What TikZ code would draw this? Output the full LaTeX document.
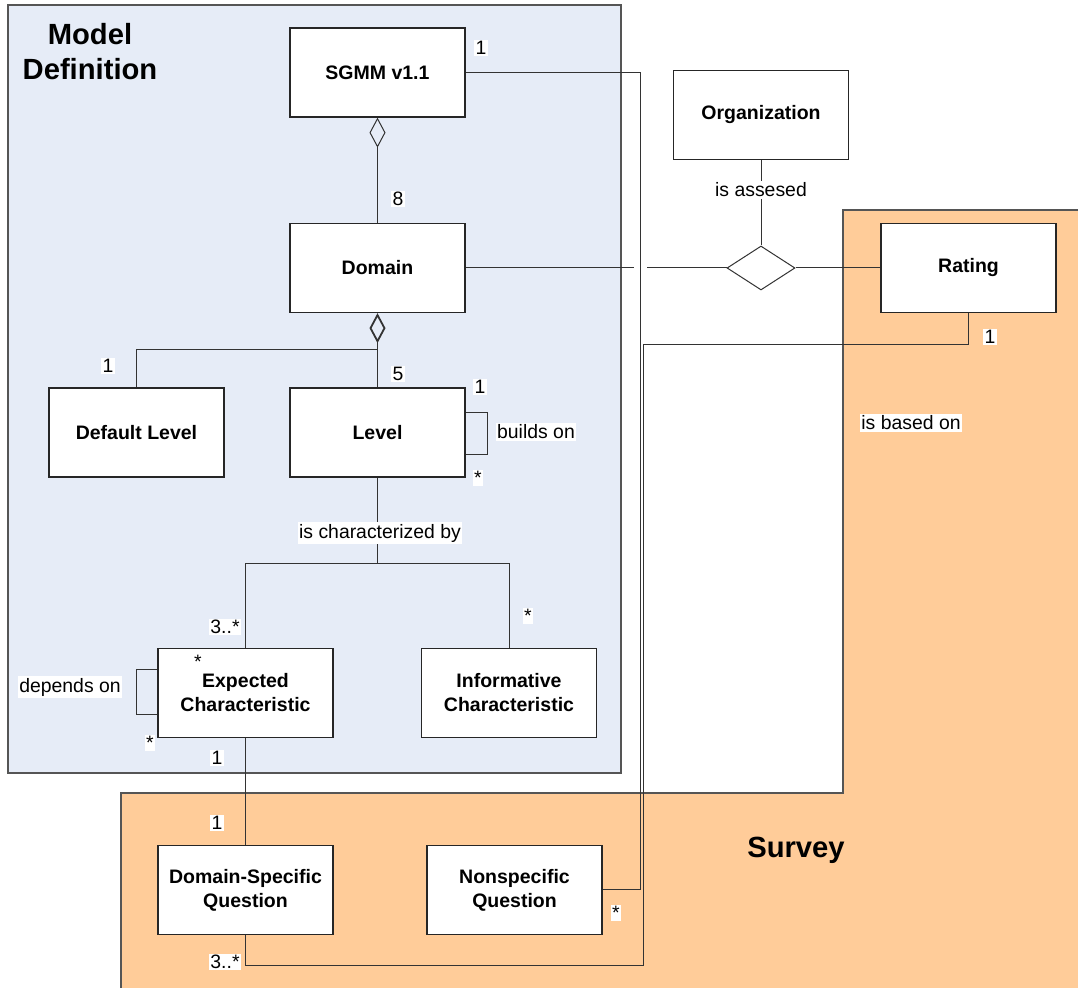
\documentclass[tikz,border=0pt]{standalone}
\usepackage{fontspec}
\setmainfont{Liberation Sans}
\usepackage{tikz}
\usetikzlibrary{arrows.meta,calc,shapes.geometric}
\definecolor{modelblue}{RGB}{230,236,247}
\definecolor{surveyorange}{RGB}{255,204,153}
\definecolor{panelline}{RGB}{85,85,85}

\begin{document}
\begin{tikzpicture}[x=0.5pt,y=-0.5pt,
  classbox/.style={draw=black!85,line width=0.65pt,fill=white,minimum width=87.5pt,minimum height=44.5pt,
    inner sep=0pt,align=center,font=\bfseries\fontsize{9.75}{12}\selectfont},
  mult/.style={fill=white,inner sep=0.8pt,font=\fontsize{9.7}{11.6}\selectfont},
  conn/.style={draw=black!80,line width=0.5pt},
  aggr/.style={conn,{Diamond[open,length=15pt,width=8pt]}-}]
\useasboundingbox (0,0) rectangle (1078,988);
% panels
\draw[fill=modelblue,draw=panelline,line width=0.6pt] (8,5) rectangle (621,773);
\fill[surveyorange] (843,210) -- (1078,210) -- (1078,988) -- (121,988) -- (121,793) -- (843,793) -- cycle;
\draw[panelline,line width=0.6pt] (1078,210) -- (843,210) -- (843,793) -- (121,793) -- (121,988);
\node[align=center,font=\bfseries\fontsize{14.6}{17.5}\selectfont] (modeltitle) at (90,52) {Model\\Definition};
\node[font=\bfseries\fontsize{14.6}{17.5}\selectfont] (surveytitle) at (796,850) {Survey};

% classes
\node[classbox] (sgmm) at (377.5,72.5) {SGMM v1.1};
\node[classbox] (org) at (761,115) {Organization};
\node[classbox] (domain) at (377.5,268) {Domain};
\node[classbox] (rating) at (968.5,268) {Rating};
\node[classbox] (deflevel) at (136.5,432.5) {Default Level};
\node[classbox] (level) at (377.5,432.5) {Level};
\node[classbox] (expected) at (245.5,693) {Expected\\Characteristic};
\node[classbox] (informative) at (509,693) {Informative\\Characteristic};
\node[classbox] (dsq) at (245.5,890) {Domain-Specific\\Question};
\node[classbox] (nsq) at (514.5,890) {Nonspecific\\Question};
\node[diamond,draw=black!80,line width=0.5pt,fill=white,minimum width=34pt,minimum height=22pt,inner sep=0pt] (assess) at (761,268) {};

% junctions
\coordinate (split) at (377.5,350);
\coordinate (charsplit) at (377.5,564);
\coordinate (busA) at (640.5,72.5);
\coordinate (busB) at (643.5,345);
\coordinate (busBlow) at (643.5,966);
\coordinate (gapL) at (634,268);
\coordinate (gapR) at (647,268);

% connectors
\draw[aggr] (sgmm.south) -- (domain.north);
\draw[aggr,line width=0.9pt] (domain.south) -- (split);
\draw[conn] (split) -| (deflevel.north);
\draw[conn] (split) -- (level.north);
\draw[conn] (level.south) -- (charsplit);
\draw[conn] (charsplit) -| (expected.north);
\draw[conn] (charsplit) -| (informative.north);
\draw[conn] ($(level.east)+(0,-20)$) -- ++(22,0) |- ($(level.east)+(0,22)$);
\draw[conn] ($(expected.west)+(0,-23)$) -- ++(-21,0) |- ($(expected.west)+(0,22)$);
\draw[conn] (expected.south) -- (dsq.north);
\draw[conn] (sgmm.east) -- (busA) |- (nsq.east);
\draw[conn] (rating.south) |- (busB) -- (busBlow) -| (dsq.south);
\draw[conn] (domain.east) -- (gapL);
\draw[conn] (gapR) -- (assess.west);
\draw[conn] (assess.north) -- (org.south);
\draw[conn] (assess.east) -- (rating.west);

% labels
\node[mult] (m1) at (481,48) {1};
\node[mult] (m2) at (398,199) {8};
\node[mult] (m3) at (398,374) {5};
\node[mult] (m4) at (108,366) {1};
\node[mult] (m5) at (480,387) {1};
\node[mult] (m6) at (478,478) {*};
\node[mult] (l1) at (536,432) {builds on};
\node[mult] (l2) at (380,533) {is characterized by};
\node[mult] (m7) at (225,627) {3..*};
\node[mult] (m8) at (528,616) {*};
\node[mult] (m9) at (198,662) {*};
\node[mult] (l3) at (70,687) {depends on};
\node[mult] (m10) at (150,743) {*};
\node[mult] (m11) at (217,758) {1};
\node[mult] (m12) at (217,823) {1};
\node[mult] (m13) at (225,962) {3..*};
\node[mult] (m14) at (616,913) {*};
\node[mult] (m15) at (990,337) {1};
\node[mult] (l4) at (911,423) {is based on};
\node[mult] (l5) at (761,190) {is assesed};
\end{tikzpicture}
\end{document}
